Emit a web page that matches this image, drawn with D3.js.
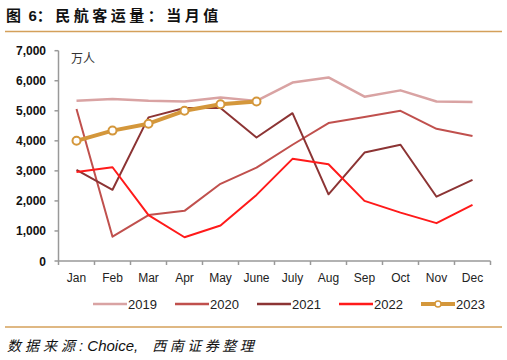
<!DOCTYPE html>
<html><head><meta charset="utf-8">
<script src="https://cdn.jsdelivr.net/npm/d3@7/dist/d3.min.js"></script>
<style>body{margin:0;background:#fff}svg{display:block}</style>
</head><body><svg id="c" width="507" height="360"></svg>
<script>
const months = ["Jan","Feb","Mar","Apr","May","June","July","Aug","Sep","Oct","Nov","Dec"];
const yTicks = [0,1000,2000,3000,4000,5000,6000,7000];
const s2019 = [5330,5390,5330,5310,5440,5330,5940,6110,5470,5680,5310,5290];
const s2020 = [5060,810,1530,1670,2570,3110,3870,4590,4790,5000,4400,4160];
const s2021 = [3030,2370,4780,5090,5090,4110,4920,2220,3610,3870,2140,2700];
const s2022 = [2960,3120,1530,790,1180,2200,3400,3220,2000,1610,1260,1870];
const s2023 = [4000,4340,4570,5000,5220,5310];
const seriesNames = ["2019","2020","2021","2022","2023"];

const series = [
  {name:seriesNames[0], values:s2019, color:"#d9a3a3", w:2.5},
  {name:seriesNames[1], values:s2020, color:"#c0504d", w:2},
  {name:seriesNames[2], values:s2021, color:"#8c3434", w:2},
  {name:seriesNames[3], values:s2022, color:"#ff1a1a", w:2},
  {name:seriesNames[4], values:s2023, color:"#d4973b", w:4, marker:true}
];

const svg = d3.select("#c");
const font = "Liberation Sans, Arial, sans-serif";
const cjk = "Noto Sans CJK SC";

// title
const t = svg.append("text").attr("x",6).attr("y",21).attr("font-family",cjk).attr("font-weight","bold")
  .attr("font-size",15).attr("fill","#111");
t.append("tspan").attr("letter-spacing",2).text("图 ");
t.append("tspan").attr("font-family",font).text("6");
t.append("tspan").attr("letter-spacing",3.5).text("：民航客运量：当月值");
svg.append("line").attr("x1",5).attr("x2",502).attr("y1",31.5).attr("y2",31.5).attr("stroke","#d4a05a").attr("stroke-width",1.5);
svg.append("line").attr("x1",5).attr("x2",502).attr("y1",327).attr("y2",327).attr("stroke","#d4a05a").attr("stroke-width",1.5);
const src = svg.append("text").attr("x",7).attr("y",351).attr("font-style","italic")
  .attr("font-size",14).attr("fill","#111");
src.append("tspan").attr("font-family",cjk).attr("letter-spacing",4).text("数据来源");
src.append("tspan").attr("font-family",font).attr("font-size",15).text(": Choice,");
src.append("tspan").attr("font-family",cjk).attr("letter-spacing",3.5).attr("dx",14).text("西南证券整理");

const x0 = 58.5, x1 = 490.5, yTop = 50.7, yBot = 261;
const x = d3.scaleBand().domain(months).range([x0,x1]);
const y = d3.scaleLinear().domain([0,7000]).range([yBot,yTop]);

// axes
const gx = svg.append("g").attr("transform",`translate(0,${yBot})`);
gx.append("line").attr("x1",x0).attr("x2",x1).attr("stroke","#999").attr("stroke-width",1.5);
const bounds = months.map(m=>x(m)).concat([x1]);
gx.selectAll("line.t").data(bounds).join("line").attr("class","t")
  .attr("x1",d=>d).attr("x2",d=>d).attr("y1",0).attr("y2",4).attr("stroke","#999").attr("stroke-width",1.5);
gx.selectAll("text").data(months).join("text").attr("x",d=>x(d)+x.bandwidth()/2).attr("y",21)
  .attr("text-anchor","middle").attr("font-family",font).attr("font-size",12).attr("fill","#222").text(d=>d);

const gy = svg.append("g");
gy.append("line").attr("x1",x0).attr("x2",x0).attr("y1",yTop).attr("y2",yBot).attr("stroke","#999").attr("stroke-width",1.5);
gy.selectAll("line.t").data(yTicks).join("line").attr("class","t")
  .attr("x1",x0-4).attr("x2",x0).attr("y1",d=>y(d)).attr("y2",d=>y(d)).attr("stroke","#999").attr("stroke-width",1.5);
gy.selectAll("text").data(yTicks).join("text").attr("x",46).attr("y",d=>y(d)+4.5)
  .attr("text-anchor","end").attr("font-family",font).attr("font-weight","bold").attr("font-size",12).attr("fill","#111")
  .text(d=>d3.format(",")(d));
svg.append("text").attr("x",71).attr("y",63).attr("font-family",cjk).attr("font-size",12).attr("fill","#333").text("万人");

// lines
const line = d3.line().x((d,i)=>x(months[i])+x.bandwidth()/2).y(d=>y(d));
series.forEach(s=>{
  svg.append("path").attr("d",line(s.values)).attr("fill","none").attr("stroke",s.color)
    .attr("stroke-width",s.w).attr("stroke-linejoin","round");
  if(s.marker){
    svg.selectAll(null).data(s.values).join("circle").attr("cx",(d,i)=>x(months[i])+x.bandwidth()/2).attr("cy",d=>y(d))
      .attr("r",4).attr("fill","#fff").attr("stroke",s.color).attr("stroke-width",2);
  }
});

// legend
const legX = [93,175,257,339,421];
series.forEach((s,i)=>{
  const g = svg.append("g").attr("transform",`translate(${legX[i]},304)`);
  g.append("line").attr("x1",0).attr("x2",34).attr("stroke",s.color).attr("stroke-width",s.marker?4:2.5);
  if(s.marker) g.append("circle").attr("cx",17).attr("r",3).attr("fill","#fff").attr("stroke",s.color).attr("stroke-width",1.5);
  g.append("text").attr("x",35).attr("y",5).attr("font-family",font).attr("font-size",13).attr("fill","#222").text(s.name);
});
</script></body></html>
